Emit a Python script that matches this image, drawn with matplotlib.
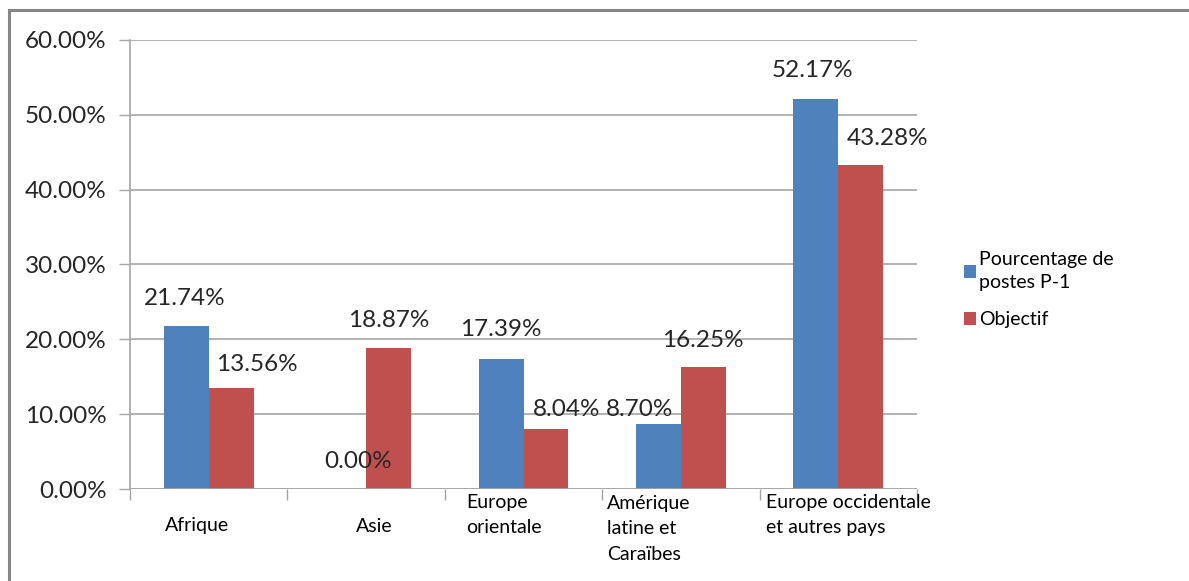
import matplotlib
matplotlib.use("Agg")
import matplotlib.pyplot as plt
import matplotlib.transforms as mtransforms
from matplotlib.lines import Line2D
from matplotlib.patches import Patch
from matplotlib.ticker import FuncFormatter, MultipleLocator

# data
categories = ["Afrique", "Asie", "Europe\norientale", "Amérique\nlatine et\nCaraïbes",
              "Europe occidentale\net autres pays"]
postes_p1 = [0.2174, 0.0, 0.1739, 0.0870, 0.5217]
objectif = [0.1356, 0.1887, 0.0804, 0.1625, 0.4328]
series_names = ["Pourcentage de\npostes P-1", "Objectif"]

BLUE = "#4F81BD"
RED = "#C0504D"
GRID = "#A6A6A6"

plt.rcParams["font.family"] = ["Lato", "DejaVu Sans"]

fig = plt.figure(figsize=(11.89, 5.81), dpi=100)
W, H = 1189, 581
ax = fig.add_axes([130 / W, 1 - 489 / H, (917 - 130) / W, (489 - 40) / H])

w = 0.285
xs = list(range(len(categories)))
ax.bar([x - w / 2 for x in xs], postes_p1, width=w, color=BLUE, zorder=3)
ax.bar([x + w / 2 for x in xs], objectif, width=w, color=RED, zorder=3)

ax.set_xlim(-0.5, len(categories) - 0.5)
ax.set_ylim(0, 0.6)
ax.yaxis.set_major_locator(MultipleLocator(0.1))
ax.yaxis.set_major_formatter(FuncFormatter(lambda v, p: f"{v * 100:.2f}%"))
ax.tick_params(axis="y", labelsize=17.5, length=8, width=1, color=GRID,
               labelcolor="#262626", pad=9)
ax.grid(axis="y", color=GRID, linewidth=1.2, zorder=0)
for s in ["top", "right", "bottom"]:
    ax.spines[s].set_visible(False)
ax.spines["left"].set_color(GRID)
ax.spines["left"].set_linewidth(1.2)

# x axis line and category separator ticks
ax.axhline(0, color=GRID, linewidth=1.2, zorder=4)
ax.set_xticks([x - 0.5 for x in xs] + [len(categories) - 0.5])
ax.set_xticklabels([])
ax.tick_params(axis="x", length=8, width=1, color=GRID)

# category labels, placed like Excel wraps them
lab_x = [-0.074, 1.05, 1.635, 2.53, 3.54]
lab_ha = ["center", "center", "left", "left", "left"]
lab_y = [525, 527, 515, 529, 515]
trans = mtransforms.blended_transform_factory(ax.transData, fig.transFigure)
for x, ha, ypx, text in zip(lab_x, lab_ha, lab_y, categories):
    ax.text(x, 1 - ypx / H, text, ha=ha, va="center", fontsize=14,
            linespacing=1.62, transform=trans, multialignment="left", color="black")

# data labels (offsets in pixels relative to bar top centre)
blue_off = [(-2, 28), (14, 27), (0, 29), (-19, 14), (-3, 28)]
red_off = [(26, 23), (0, 27), (21, 19), (0, 27), (27, 27)]
for x, v, (dx, dy) in zip(xs, postes_p1, blue_off):
    ax.annotate(f"{v * 100:.2f}%", (x - w / 2, v), xytext=(dx, dy), textcoords="offset pixels",
                ha="center", va="center", fontsize=17.5, color="#262626", zorder=5)
for x, v, (dx, dy) in zip(xs, objectif, red_off):
    ax.annotate(f"{v * 100:.2f}%", (x + w / 2, v), xytext=(dx, dy), textcoords="offset pixels",
                ha="center", va="center", fontsize=17.5, color="#262626", zorder=5)

# legend
handles = [Patch(facecolor=BLUE), Patch(facecolor=RED)]
leg = fig.legend(handles, series_names, loc="upper left", bbox_to_anchor=(956 / W, 1 - 243 / H),
                 frameon=False, fontsize=14, handlelength=0.65, handleheight=0.65,
                 handletextpad=0.12, labelspacing=1.05, borderaxespad=0)
for t in leg.get_texts():
    t.set_linespacing(1.45)

# chart border (only top and left edges visible in the crop)
fig.add_artist(Line2D([9 / W, 1], [1 - 10 / H, 1 - 10 / H], color="#868686", linewidth=2.2,
                      transform=fig.transFigure))
fig.add_artist(Line2D([9 / W, 9 / W], [1 - 10 / H, 0], color="#868686", linewidth=2.2,
                      transform=fig.transFigure))

fig.savefig("out.png", dpi=100)
